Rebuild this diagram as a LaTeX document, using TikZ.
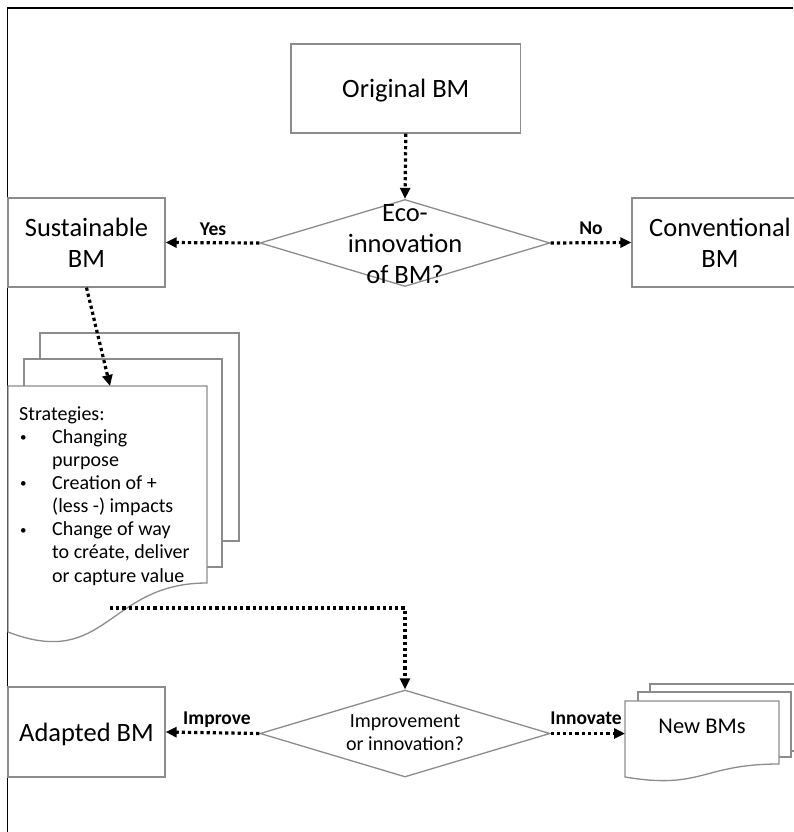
\documentclass[tikz,border=0pt]{standalone}
\usepackage{fontspec}
\setmainfont{Carlito}
\usetikzlibrary{arrows.meta,shapes.geometric}

\definecolor{edgegray}{RGB}{140,140,140}

% font sizes used in the chart
\newcommand\fbig{\fontsize{26.5}{31}\selectfont}
\newcommand\fmid{\fontsize{20}{23.1}\selectfont}
\newcommand\fnew{\fontsize{22.5}{26}\selectfont}
\newcommand\ftag{\bfseries\fontsize{19.5}{23}\selectfont}
% bullet list helpers for the strategies sheet
\newcommand\stratbul{\makebox[33pt][l]{\hspace{1pt}\raisebox{1.8pt}{\fontsize{13}{13}\selectfont\textbullet}}}
\newcommand\stratind{\hspace*{33pt}}

\begin{document}
\begin{tikzpicture}[x=1pt,y=-1pt,
  rule/.style={draw=black, line width=1.8pt, line join=miter},
  page/.style={draw=edgegray, line width=1.3pt, fill=white, line join=miter},
  box/.style={draw=edgegray, line width=1.3pt, fill=white, inner sep=0,
              align=center, font=\fbig},
  decision/.style={diamond, draw=edgegray, line width=1.3pt, fill=white,
                   inner sep=0, minimum width=290pt, minimum height=87pt},
  flow/.style={line width=3.2pt, dash pattern=on 3.2pt off 3pt,
               -{Triangle[length=11pt,width=10pt]}},
  tag/.style={font=\ftag, anchor=base, inner sep=0},
]
\useasboundingbox (0,0) rectangle (793,832);

% outer frame (top and left edges)
\draw[rule] (7.5,832) -- (7.5,8) -- (793,8);

% stacked strategy sheets
\filldraw[page] (40,333) rectangle (239,541);
\filldraw[page] (24,359) rectangle (222,567);
\filldraw[page] (8,386) -- (207,386) -- (207,583)
  .. controls (107,583) and (107,670) .. (8,632) -- cycle;
\coordinate (stratin) at (110,386);
\coordinate (stratout) at (110,608);

% stacked new business model sheets
\filldraw[page] (650,684) rectangle (806,751);
\filldraw[page] (638,692) rectangle (791,757);
\filldraw[page] (625,701) -- (779,701) -- (779,764)
  .. controls (702,764) and (702,790) .. (625,777) -- cycle;
\coordinate (newin) at (625,733.5);

% process boxes
\node[box, minimum width=229.5pt, minimum height=89pt,
      text height=19pt, text depth=0pt] (orig) at (405.8,88.5) {Original BM};
\node[box, minimum width=157pt, minimum height=89pt] (sus) at (86.5,242.5)
  {Sustainable\\BM};
\node[box, minimum width=176pt, minimum height=89pt] (conv) at (720,242.5)
  {Conventional\\BM};
\node[box, minimum width=157pt, minimum height=90pt,
      text height=19pt, text depth=0pt] (adapt) at (86.5,732) {Adapted BM};

% decisions
\node[decision] (d1) at (405,243) {};
\node[decision] (d2) at (405,733.5) {};

% connectors
\draw[flow] (orig.south) -- (d1.north);
\draw[flow] (d1.west) -- (sus.east);
\draw[flow] (d1.east) -- (conv.west);
\draw[flow] (sus.south) -- (stratin);
\draw[flow] (stratout) -| (d2.north);
\draw[flow] (d2.west) -- (adapt.east);
\draw[flow] (d2.east) -- (newin);

% decision texts
\node[align=center, inner sep=0, font=\fbig] (d1text) at (405,244)
  {Eco-\\innovation\\of BM?};
\node[align=center, inner sep=0, font=\fmid] (d2text) at (405,733)
  {Improvement\\or innovation?};

% sheet texts (anchored on the baseline of the last line)
\node[anchor=base west, inner sep=0, align=left, font=\fmid] (strat) at (19,582)
  {Strategies:\\
   \stratbul Changing\\
   \stratind purpose\\
   \stratbul Creation of +\\
   \stratind (less -) impacts\\
   \stratbul Change of way\\
   \stratind to créate, deliver\\
   \stratind or capture value};
\node[anchor=base, inner sep=0, font=\fnew] (newtext) at (702,733) {New BMs};

% branch labels
\node[tag] (yes) at (213,235) {Yes};
\node[tag] (no) at (591,234) {No};
\node[tag] (improve) at (217,724) {Improve};
\node[tag] (innovate) at (586,724) {Innovate};
\end{tikzpicture}
\end{document}
